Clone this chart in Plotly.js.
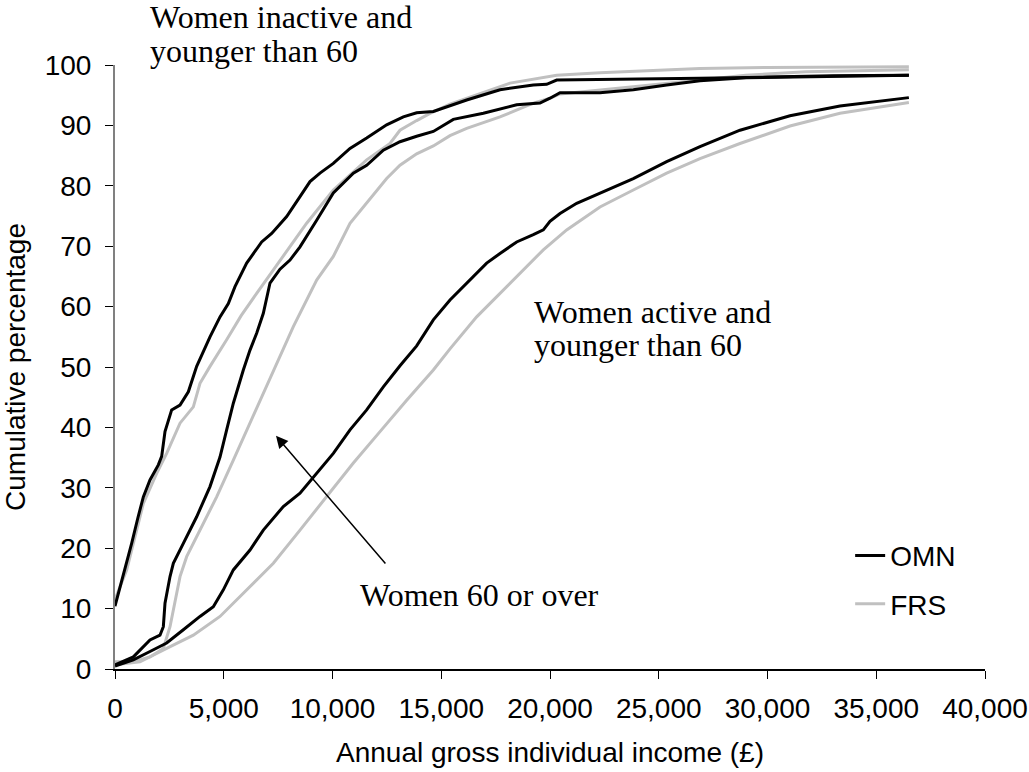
<!DOCTYPE html>
<html>
<head>
<meta charset="utf-8">
<script src="https://cdn.plot.ly/plotly-3.0.1.min.js"></script>
<style>
  html, body { margin: 0; padding: 0; background: #ffffff; }
  #chart { width: 1029px; height: 772px; }
</style>
</head>
<body>
<div id="chart"></div>
<script>
// ---- Data ----
// Women inactive and younger than 60
const inactiveOmnX = [0, 230, 460, 766, 1050, 1303, 1609, 1992, 2146, 2299, 2605, 2989, 3372, 3525, 3755, 4368, 4828, 5211, 5517, 6054, 6743, 7203, 7893, 8506, 8966, 9425, 10038, 10805, 11571, 12490, 13257, 13870, 14636, 16169, 17701, 19234, 19847, 20307, 23831, 26897, 30000, 33000, 36500];
const inactiveOmnY = [10.4, 13.5, 16.4, 20.8, 25.0, 28.5, 31.3, 33.8, 35.2, 39.3, 42.9, 43.7, 45.9, 47.6, 50.1, 55.0, 58.3, 60.5, 63.3, 67.2, 70.7, 72.1, 74.9, 78.2, 80.7, 82.1, 83.7, 86.2, 87.9, 90.1, 91.4, 92.1, 92.3, 94.2, 95.9, 96.7, 96.8, 97.5, 97.6, 97.8, 98.0, 98.2, 98.3];

const inactiveFrsX = [0, 536, 843, 1303, 1916, 2375, 2989, 3602, 3908, 4368, 5134, 5800, 6513, 7739, 8812, 10038, 11571, 12644, 13103, 13870, 14483, 15402, 16169, 18161, 20307, 22299, 26897, 30000, 36500];
const inactiveFrsY = [11.5, 16.4, 20.8, 27.4, 32.4, 35.7, 40.7, 43.4, 47.3, 50.1, 54.5, 58.5, 62.2, 68.3, 73.8, 79.3, 84.3, 87.0, 89.2, 90.8, 92.0, 93.5, 94.5, 97.0, 98.3, 98.7, 99.4, 99.6, 99.7];

// Women 60 or over
const olderOmnX = [0, 843, 1609, 2069, 2222, 2299, 2529, 2682, 3142, 3755, 4368, 4828, 5134, 5441, 5900, 6207, 6513, 6820, 7126, 7586, 8046, 8506, 9272, 10038, 10958, 11571, 12337, 13103, 13870, 14636, 15555, 16935, 18467, 19540, 20000, 20460, 22299, 23831, 25364, 26897, 29000, 32000, 36500];
const olderOmnY = [0.7, 2.0, 4.8, 5.6, 7.0, 10.9, 15.3, 17.5, 20.8, 25.2, 30.2, 35.1, 39.6, 44.0, 49.5, 52.8, 55.6, 58.9, 63.9, 66.2, 67.7, 69.9, 74.3, 78.8, 82.1, 83.4, 85.9, 87.3, 88.2, 89.0, 91.0, 92.0, 93.4, 93.7, 94.5, 95.4, 95.4, 95.9, 96.7, 97.4, 97.9, 98.1, 98.3];

const olderFrsX = [0, 843, 1609, 2222, 2529, 2682, 2989, 3295, 3908, 4674, 5441, 6207, 6973, 7500, 8199, 9272, 10038, 10805, 11571, 12490, 13103, 13870, 14636, 15402, 16169, 17701, 19234, 20000, 20460, 22299, 23831, 26897, 29000, 31770, 36500];
const olderFrsY = [1.2, 1.2, 2.0, 3.4, 7.0, 9.8, 15.3, 18.6, 23.0, 28.5, 34.6, 40.7, 46.7, 51.0, 56.7, 64.4, 68.3, 73.8, 77.1, 81.2, 83.4, 85.3, 86.6, 88.3, 89.5, 91.4, 93.7, 94.5, 95.2, 95.8, 96.4, 97.5, 98.3, 98.9, 99.2];

// Women active and younger than 60
const activeOmnX = [0, 843, 1609, 2375, 3142, 3908, 4521, 4981, 5441, 6207, 6820, 7739, 8506, 9272, 10038, 10805, 11571, 12337, 13103, 13870, 14636, 15402, 16169, 17088, 17701, 18467, 19234, 19693, 20000, 20460, 21226, 22299, 23831, 25364, 26897, 28736, 31034, 33333, 36500];
const activeOmnY = [0.5, 1.5, 2.9, 4.3, 6.5, 8.7, 10.3, 13.1, 16.4, 19.7, 23.0, 26.9, 29.1, 32.4, 35.7, 39.6, 42.9, 46.7, 50.2, 53.5, 57.8, 61.1, 63.9, 67.2, 68.8, 70.7, 71.9, 72.7, 74.1, 75.4, 77.1, 78.8, 81.2, 84.0, 86.5, 89.2, 91.6, 93.2, 94.6];

const activeFrsX = [0, 1149, 2375, 3602, 4828, 6054, 7280, 8506, 9732, 10958, 12184, 13410, 14636, 15402, 16628, 17701, 18774, 19693, 20766, 22299, 23831, 25364, 26897, 28736, 31034, 33333, 36500];
const activeFrsY = [0.7, 1.2, 3.4, 5.6, 8.7, 13.1, 17.5, 23.0, 28.5, 34.1, 39.3, 44.5, 49.5, 53.0, 58.3, 62.2, 66.1, 69.4, 72.7, 76.5, 79.3, 82.1, 84.5, 87.0, 89.9, 92.0, 93.8];

const xTickVals = [0, 5000, 10000, 15000, 20000, 25000, 30000, 35000, 40000];
const yTickVals = [0, 10, 20, 30, 40, 50, 60, 70, 80, 90, 100];

const seriesNames = ['OMN', 'FRS'];
const xTitle = 'Annual gross individual income (£)';
const yTitle = 'Cumulative percentage';
const groupLabels = {
  inactive: ['Women inactive and', 'younger than 60'],
  active: ['Women active and', 'younger than 60'],
  older: 'Women 60 or over'
};

// ---- Styling ----
const BLACK = '#000000';
const GREY = '#c0c0c0';
const SANS = 'Liberation Sans, Arial, sans-serif';
const SERIF = 'Liberation Serif, Times New Roman, serif';

function mk(x, y, isOmn, show) {
  return {
    x: x, y: y, type: 'scatter', mode: 'lines',
    name: isOmn ? seriesNames[0] : seriesNames[1],
    legendgroup: isOmn ? 'omn' : 'frs',
    legendrank: isOmn ? 1 : 2,
    showlegend: show,
    line: { color: isOmn ? BLACK : GREY, width: 3 },
    hoverinfo: 'x+y'
  };
}

const data = [
  mk(inactiveFrsX, inactiveFrsY, false, true),
  mk(olderFrsX, olderFrsY, false, false),
  mk(activeFrsX, activeFrsY, false, false),
  mk(inactiveOmnX, inactiveOmnY, true, true),
  mk(olderOmnX, olderOmnY, true, false),
  mk(activeOmnX, activeOmnY, true, false)
];

const annFont = { family: SERIF, size: 32, color: '#000' };
const annotations = [
  { xref: 'paper', yref: 'paper', x: 0.0379, y: 1.0795, text: groupLabels.inactive[0], showarrow: false, xanchor: 'left', yanchor: 'middle', font: annFont },
  { xref: 'paper', yref: 'paper', x: 0.0379, y: 1.0232, text: groupLabels.inactive[1], showarrow: false, xanchor: 'left', yanchor: 'middle', font: annFont },
  { xref: 'x', yref: 'y', x: 19170, y: 59.1, text: groupLabels.active[0], showarrow: false, xanchor: 'left', yanchor: 'middle', font: annFont },
  { xref: 'x', yref: 'y', x: 19170, y: 53.6, text: groupLabels.active[1], showarrow: false, xanchor: 'left', yanchor: 'middle', font: annFont },
  { xref: 'x', yref: 'y', x: 11170, y: 12.2, text: groupLabels.older, showarrow: false, xanchor: 'left', yanchor: 'middle', font: annFont },
  { xref: 'x', yref: 'y', x: 7402, y: 38.6, axref: 'x', ayref: 'y', ax: 12492, ay: 17.2,
    text: '', showarrow: true, arrowhead: 2, arrowsize: 1.6, arrowwidth: 1.5, arrowcolor: '#000', standoff: 0 }
];

const layout = {
  width: 1029, height: 772,
  margin: { l: 115, r: 44, t: 65, b: 103, pad: 0 },
  paper_bgcolor: '#ffffff', plot_bgcolor: '#ffffff',
  font: { family: SANS, size: 28, color: '#000' },
  showlegend: true,
  legend: {
    x: 0.845, y: 0.229, xanchor: 'left', yanchor: 'top',
    bgcolor: 'rgba(0,0,0,0)', borderwidth: 0,
    font: { family: SANS, size: 28, color: '#000' },
    traceorder: 'grouped', tracegroupgap: 9
  },
  xaxis: {
    range: [0, 40000], tickvals: xTickVals, tickformat: ',d',
    showgrid: false, zeroline: false,
    showline: true, linecolor: '#000', linewidth: 1.5,
    ticks: 'outside', ticklen: 8, tickwidth: 1, tickcolor: '#000',
    ticklabelstandoff: 6,
    tickfont: { family: SANS, size: 28, color: '#000' },
    title: { text: xTitle, font: { family: SANS, size: 28, color: '#000' }, standoff: 19 },
    fixedrange: true
  },
  yaxis: {
    range: [0, 100], tickvals: yTickVals,
    showgrid: false, zeroline: false,
    showline: true, linecolor: '#808080', linewidth: 2,
    ticks: 'outside', ticklen: 8, tickwidth: 1, tickcolor: '#000',
    ticklabelstandoff: 8,
    tickfont: { family: SANS, size: 28, color: '#000' },
    title: { text: yTitle, font: { family: SANS, size: 28, color: '#000' }, standoff: 12 },
    fixedrange: true
  },
  annotations: annotations
};

Plotly.newPlot('chart', data, layout, { displayModeBar: false, staticPlot: true });
</script>
</body>
</html>
